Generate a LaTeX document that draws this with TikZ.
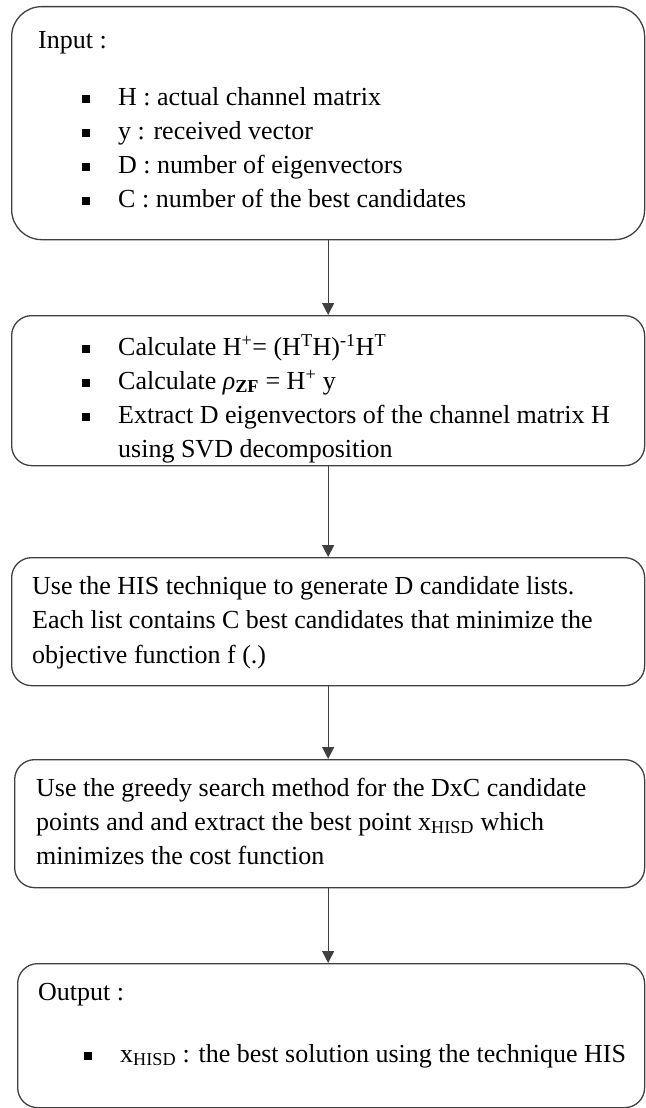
\documentclass[tikz,border=0pt]{standalone}
\usepackage{fontspec}
\setmainfont{Liberation Serif}
\usetikzlibrary{positioning, arrows.meta}
\newcommand{\itm}{\makebox[36pt][l]{\rule[2.5pt]{8pt}{8pt}}}

\begin{document}
\begin{tikzpicture}[x=1pt, y=1pt,
        box/.style={draw=black!75, line width=1.3pt, rounded corners=20pt, anchor=north west, inner sep=0pt},
        txt/.style={align=left, inner sep=0pt, font=\fontsize{26}{34}\selectfont},
        arr/.style={draw=black!75, line width=1.3pt, -{Triangle[width=12pt,length=12pt]}}]
        \useasboundingbox (0,0) rectangle (645,-1108);

        %caselle
        \node[box, rounded corners=30pt, minimum width=633pt, minimum height=233pt] (b1) at (11,-6) {};
        \node[box, minimum width=633pt, minimum height=150pt] (b2) at (11,-315) {};
        \node[box, minimum width=633pt, minimum height=128pt] (b3) at (11,-557) {};
        \node[box, minimum width=630pt, minimum height=128pt] (b4) at (14,-759) {};
        \node[box, minimum width=627pt, minimum height=144pt] (b5) at (17,-963) {};

        %testi
        \node[txt, below right=18.2pt and 27pt of b1.north west] (t1) {\strut Input :\\[23pt]
            \hspace*{44pt}\itm H : actual channel matrix\\
            \hspace*{44pt}\itm y : received vector\\
            \hspace*{44pt}\itm D : number of eigenvectors\\
            \hspace*{44pt}\itm C : number of the best candidates};
        \node[txt, below right=16.2pt and 71pt of b2.north west] (t2) {\strut\itm Calculate H\textsuperscript{+}= (H\textsuperscript{T}H)\textsuperscript{-1}H\textsuperscript{T}\\
            \itm Calculate \textit{ρ}\textsubscript{\textbf{ZF}} = H\textsuperscript{+} y\\
            \itm Extract D eigenvectors of the channel matrix H\\
            \hspace*{36pt}using SVD decomposition};
        \node[txt, font=\fontsize{26}{34.5}\selectfont, below right=12.85pt and 21pt of b3.north west] (t3) {\strut Use the HIS technique to generate D candidate lists.\\
            Each list contains C best candidates that minimize the\\
            objective function f (.)};
        \node[txt, below right=13.2pt and 22pt of b4.north west] (t4) {\strut Use the greedy search method for the DxC candidate\\
            points and and extract the best point x\textsubscript{HISD} which\\
            minimizes the cost function};
        \node[txt, below right=13.2pt and 21pt of b5.north west] (t5) {\strut Output :\\[28pt]
            \hspace*{46pt}\itm x\textsubscript{HISD} : the best solution using the technique HIS};

        %frecce
        \draw[arr] (b1.south) -- (b2.north);
        \draw[arr] (b2.south) -- (b3.north);
        \draw[arr] (b3.south) -- (b3.south |- b4.north);
        \draw[arr] (b4.south -| b3.south) -- (b3.south |- b5.north);
\end{tikzpicture}
\end{document}
